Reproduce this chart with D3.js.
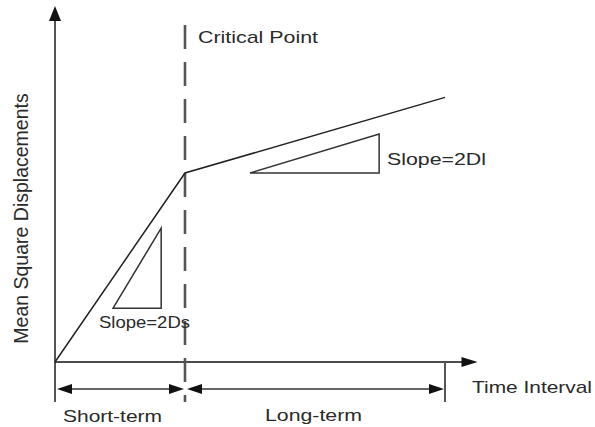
<!DOCTYPE html>
<html>
<head>
<meta charset="utf-8">
<script src="https://cdn.jsdelivr.net/npm/d3@7/dist/d3.min.js"></script>
<style>
  html, body { margin: 0; padding: 0; background: #fff; }
  svg { display: block; }
  text { font-family: "Liberation Sans", Arial, sans-serif; fill: #2a2a2a; }
</style>
</head>
<body>
<svg id="chart" width="595" height="427"></svg>
<script>
// Mean square displacement vs time interval, two diffusion regimes
const msdTime  = [0, 3, 9];        // time interval
const msdValue = [0, 6, 8.4];      // mean square displacement
const criticalTime = 3;

// slope markers: [time, msd] vertices
const shortTriangle = [[1.34, 1.71], [2.45, 4.25], [2.45, 1.71]];
const longTriangle  = [[4.5, 6.0], [7.48, 7.24], [7.48, 6.0]];

// phase spans along the time axis
const phaseStarts = [0, 3];
const phaseEnds   = [3, 9];
const phaseLabels = ["Short-term", "Long-term"];

const axisTimeMax = 9.75;
const axisMsdMax  = 11.3;

const svg = d3.select("#chart");
const x = d3.scaleLinear().domain([0, 10]).range([55, 55 + 10 * 130 / 3]);
const y = d3.scaleLinear().domain([0, 6]).range([362, 173]);

const ink = "#222";

// arrowhead helper: tip at (tx, ty), pointing in direction (dx, dy)
function arrowHead(tx, ty, dx, dy, len, half, color) {
  const px = -dy, py = dx;
  const bx = tx - dx * len, by = ty - dy * len;
  svg.append("path")
    .attr("d", `M${tx},${ty} L${bx + px * half},${by + py * half} L${bx - px * half},${by - py * half} Z`)
    .attr("fill", color);
}

// y axis (extends below the time axis to close the span bracket)
svg.append("line")
  .attr("x1", x(0)).attr("x2", x(0))
  .attr("y1", y(axisMsdMax) + 12).attr("y2", y(-1.27))
  .attr("stroke", "#555").attr("stroke-width", 2);
arrowHead(x(0), y(axisMsdMax), 0, -1, 15, 6, "#111");

// x axis
svg.append("line")
  .attr("x1", x(0)).attr("x2", x(axisTimeMax) - 12)
  .attr("y1", y(0)).attr("y2", y(0))
  .attr("stroke", "#111").attr("stroke-width", 1.6);
arrowHead(x(axisTimeMax), y(0), 1, 0, 16, 5, "#111");

// critical point divider
svg.append("line")
  .attr("x1", x(criticalTime)).attr("x2", x(criticalTime))
  .attr("y1", 25).attr("y2", y(-1.27))
  .attr("stroke", "#555").attr("stroke-width", 2.6)
  .attr("stroke-dasharray", "24,13");

// MSD curve
const line = d3.line().x(d => x(d[0])).y(d => y(d[1]));
svg.append("path")
  .datum(d3.zip(msdTime, msdValue))
  .attr("d", line)
  .attr("fill", "none").attr("stroke", ink).attr("stroke-width", 1.5);

// slope triangles
[shortTriangle, longTriangle].forEach(tri => {
  svg.append("path")
    .attr("d", line(tri) + "Z")
    .attr("fill", "none").attr("stroke", "#333").attr("stroke-width", 1.5);
});

// span end tick
svg.append("line")
  .attr("x1", x(phaseEnds[1])).attr("x2", x(phaseEnds[1]))
  .attr("y1", y(0)).attr("y2", y(-1.27))
  .attr("stroke", "#555").attr("stroke-width", 2);

// phase span arrows
const spanY = y(-0.857);
phaseStarts.forEach((s, i) => {
  const x0 = x(s) + 2, x1 = x(phaseEnds[i]) - 1;
  svg.append("line")
    .attr("x1", x0 + 10).attr("x2", x1 - 10)
    .attr("y1", spanY).attr("y2", spanY)
    .attr("stroke", "#333").attr("stroke-width", 1.5);
  arrowHead(x0, spanY, -1, 0, 15, 5, "#111");
  arrowHead(x1, spanY, 1, 0, 15, 5, "#111");
});

// labels
function label(txt, lx, ly, size, width) {
  const t = svg.append("text")
    .attr("x", lx).attr("y", ly)
    .attr("font-size", size)
    .text(txt);
  if (width) t.attr("textLength", width).attr("lengthAdjust", "spacingAndGlyphs");
  return t;
}
label("Critical Point", x(criticalTime) + 13, 43, 17, 120);
label("Slope=2Ds", 99, 328, 17, 91);
label("Slope=2Dl", 387, 165, 17, 99);
label(phaseLabels[0], 63, 422, 17, 99);
label(phaseLabels[1], 265, 421, 17, 97);
label("Time Interval", 472, 393, 17, 120);

svg.append("text")
  .attr("transform", `translate(28, ${(93 + 344) / 2}) rotate(-90)`)
  .attr("text-anchor", "middle")
  .attr("font-size", 19.5)
  .text("Mean Square Displacements");
</script>
</body>
</html>
